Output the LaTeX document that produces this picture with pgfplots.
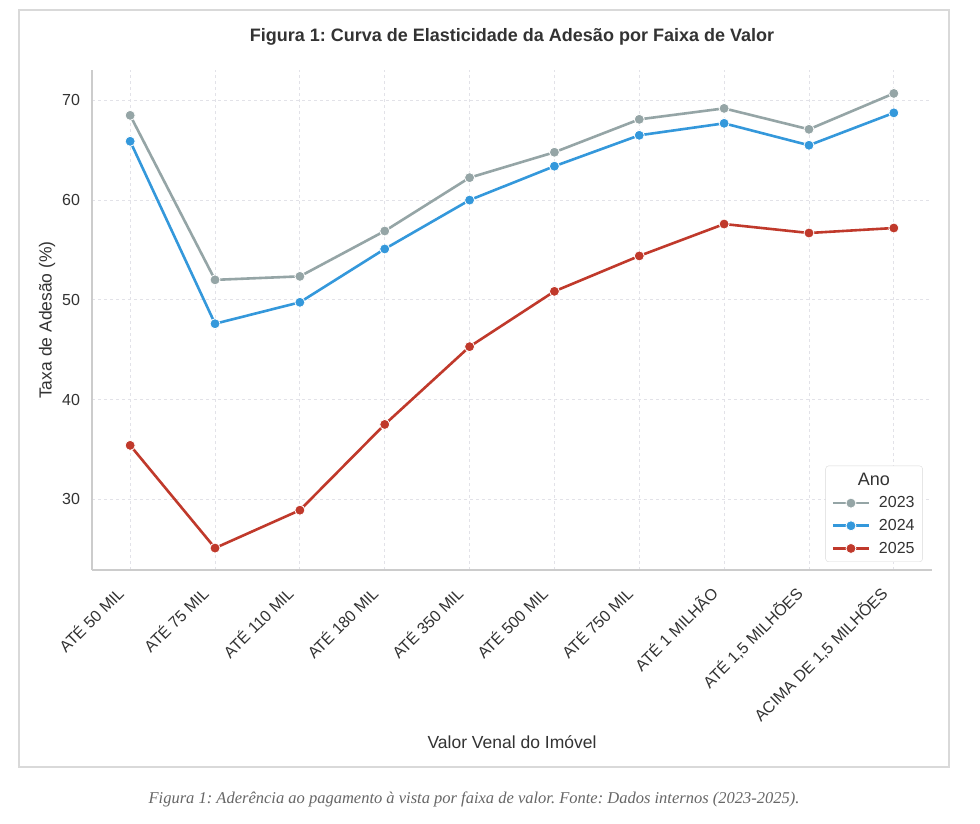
\documentclass[border=0pt]{standalone}
\usepackage{fontspec}
\setmainfont{Liberation Sans}
\newfontfamily\serifcap{Liberation Serif}
\usepackage{pgfplots}
\pgfplotsset{compat=1.18}
\definecolor{c23}{HTML}{95A5A6}
\definecolor{c24}{HTML}{3498DB}
\definecolor{c25}{HTML}{C0392B}
\definecolor{gridc}{HTML}{E2E2E8}
\definecolor{spine}{HTML}{CCCCCC}
\definecolor{txt}{HTML}{333333}
\frenchspacing
\begin{document}
\begin{tikzpicture}[x=1pt,y=1pt]
\useasboundingbox (0,0) rectangle (980,824);
\fill[white] (0,0) rectangle (980,824);
\draw[line width=1.5pt, draw=black!15] (19,57) rectangle (949,814);
\begin{axis}[
  at={(92pt,254pt)}, anchor=south west,
  scale only axis, width=840pt, height=500pt,
  xmin=-0.45, xmax=9.45, ymin=22.9, ymax=73.05,
  xtick={0,1,2,3,4,5,6,7,8,9},
  xticklabels={ATÉ 50 MIL, ATÉ 75 MIL, ATÉ 110 MIL, ATÉ 180 MIL, ATÉ 350 MIL, ATÉ 500 MIL, ATÉ 750 MIL, ATÉ 1 MILHÃO, {ATÉ 1,5 MILHÕES}, {ACIMA DE 1,5 MILHÕES}},
  ytick={30,40,50,60,70},
  /pgf/number format/assume math mode=true,
  axis x line*=bottom, axis y line*=left,
  axis line style={draw=spine, line width=1.2pt, -},
  major tick length=0pt,
  grid=major, grid style={dashed, draw=gridc, line width=0.8pt},
  yticklabel style={font=\fontsize{16}{19}\selectfont, text=txt, xshift=-8.5pt},
  xticklabel style={xshift=-15pt, yshift=-10pt, rotate=45, anchor=north east, font=\fontsize{16}{19}\selectfont, text=txt},
  every axis title shift=0pt,
  title={Figura 1: Curva de Elasticidade da Adesão por Faixa de Valor},
  title style={font=\fontsize{18}{21}\selectfont\bfseries, text=txt, at={(axis description cs:0.5,1.066)}, anchor=center},
  xlabel={Valor Venal do Imóvel},
  xlabel style={font=\fontsize{17.5}{21}\selectfont, text=txt, at={(axis description cs:0.5,-0.344)}, anchor=center},
  ylabel={Taxa de Adesão (\%)},
  ylabel style={font=\fontsize{17.5}{21}\selectfont, text=txt, at={(axis description cs:-0.0535,0.5)}, anchor=center, rotate=0},
  legend style={at={(axis description cs:0.989,0.016)}, anchor=south east, draw=black!15, rounded corners=3pt, fill=white, font=\fontsize{16}{19}\selectfont, text=txt, row sep=6pt, inner xsep=6pt, inner ysep=5pt},
  legend cell align=left,
  legend image code/.code={\draw[mark repeat=2,mark phase=2,#1] plot coordinates {(0pt,0pt)(18pt,0pt)(36pt,0pt)}; \path[draw=none] (0pt,0pt) -- (44pt,0pt);},
  every axis plot/.append style={line width=2.6pt, mark=*, mark size=5pt},
]
\addlegendimage{empty legend}
\addlegendentry{\hspace*{-21pt}\fontsize{18}{21}\selectfont Ano}
\addplot[color=c23, mark options={fill=c23, draw=white, line width=0.8pt}] coordinates {
(0,68.5) (1,52.0) (2,52.35) (3,56.9) (4,62.25) (5,64.8) (6,68.1) (7,69.2) (8,67.1) (9,70.7)};
\addlegendentry{2023}
\addplot[color=c24, mark options={fill=c24, draw=white, line width=0.8pt}] coordinates {
(0,65.9) (1,47.6) (2,49.75) (3,55.1) (4,60.0) (5,63.4) (6,66.5) (7,67.7) (8,65.5) (9,68.75)};
\addlegendentry{2024}
\addplot[color=c25, mark options={fill=c25, draw=white, line width=0.8pt}] coordinates {
(0,35.4) (1,25.1) (2,28.9) (3,37.5) (4,45.3) (5,50.85) (6,54.4) (7,57.6) (8,56.7) (9,57.2)};
\addlegendentry{2025}
\end{axis}
\node[font=\serifcap\itshape\fontsize{16.5}{19}\selectfont, text=black!60] at (474,25) {Figura 1: Aderência ao pagamento à vista por faixa de valor. Fonte: Dados internos (2023-2025).};
\end{tikzpicture}
\end{document}
